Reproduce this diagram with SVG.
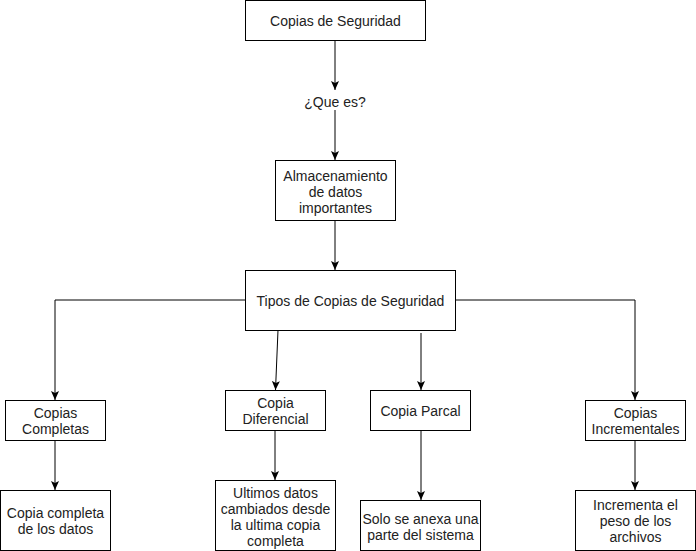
<svg xmlns="http://www.w3.org/2000/svg" width="696" height="551" viewBox="0 0 696 551">
<style>
.box{fill:#fff;stroke:#000;stroke-width:1}
.t{font-family:"Liberation Sans",Arial,sans-serif;font-size:14px;fill:#222;text-anchor:middle}
.c{fill:none;stroke:#000;stroke-width:1;marker-end:url(#arr)}
</style>
<defs>
<marker id="arr" markerUnits="userSpaceOnUse" markerWidth="10" markerHeight="10" refX="9" refY="4" orient="auto">
<path d="M0,0 L9,4 L0,8 L2,4 Z" fill="#000"/>
</marker>
</defs>
<rect width="696" height="551" fill="#fff"/>
<g id="connectors">
<path class="c" d="M335,40 L335,90"/>
<path class="c" d="M335,110 L335,160"/>
<path class="c" d="M335,220 L335,270"/>
<path class="c" d="M245,300 L55,300 L55,400"/>
<path class="c" d="M278,330 L275.5,390"/>
<path class="c" d="M421,333 L421,390"/>
<path class="c" d="M455,300 L635,300 L635,400"/>
<path class="c" d="M55,440 L55,490"/>
<path class="c" d="M275,430 L275,480"/>
<path class="c" d="M421,430 L421,500"/>
<path class="c" d="M635,440 L635,490"/>
</g>
<g id="n-copias">
<rect class="box" x="245.5" y="0.5" width="180" height="40"/>
<text class="t" x="335.5" y="26">Copias de Seguridad</text>
</g>
<g id="n-quees">
<text class="t" x="335" y="107">¿Que es?</text>
</g>
<g id="n-almac">
<rect class="box" x="275.5" y="160.5" width="120" height="60"/>
<text class="t" x="335.5" y="181">Almacenamiento</text>
<text class="t" x="335.5" y="197">de datos</text>
<text class="t" x="335.5" y="212.5">importantes</text>
</g>
<g id="n-tipos">
<rect class="box" x="245.5" y="270.5" width="210" height="60"/>
<text class="t" x="350.5" y="306">Tipos de Copias de Seguridad</text>
</g>
<g id="n-completas">
<rect class="box" x="5.5" y="400.5" width="100" height="40"/>
<text class="t" x="55.5" y="418">Copias</text>
<text class="t" x="55.5" y="434">Completas</text>
</g>
<g id="n-diferencial">
<rect class="box" x="225.5" y="390.5" width="100" height="40"/>
<text class="t" x="275.5" y="408">Copia</text>
<text class="t" x="275.5" y="424">Diferencial</text>
</g>
<g id="n-parcal">
<rect class="box" x="370.5" y="390.5" width="100" height="40"/>
<text class="t" x="420.5" y="416">Copia Parcal</text>
</g>
<g id="n-incrementales">
<rect class="box" x="585.5" y="400.5" width="100" height="40"/>
<text class="t" x="635.5" y="418">Copias</text>
<text class="t" x="635.5" y="434">Incrementales</text>
</g>
<g id="n-completa-datos">
<rect class="box" x="0.5" y="490.5" width="110" height="60"/>
<text class="t" x="55.5" y="518">Copia completa</text>
<text class="t" x="55.5" y="534">de los datos</text>
</g>
<g id="n-ultimos">
<rect class="box" x="215.5" y="480.5" width="120" height="70"/>
<text class="t" x="275.5" y="498">Ultimos datos</text>
<text class="t" x="275.5" y="514">cambiados desde</text>
<text class="t" x="275.5" y="530">la ultima copia</text>
<text class="t" x="275.5" y="546">completa</text>
</g>
<g id="n-solo">
<rect class="box" x="360.5" y="500.5" width="120" height="50"/>
<text class="t" x="420.5" y="524">Solo se anexa una</text>
<text class="t" x="420.5" y="540">parte del sistema</text>
</g>
<g id="n-incrementa">
<rect class="box" x="575.5" y="490.5" width="120" height="60"/>
<text class="t" x="635.5" y="510">Incrementa el</text>
<text class="t" x="635.5" y="526">peso de los</text>
<text class="t" x="635.5" y="542">archivos</text>
</g>
</svg>
